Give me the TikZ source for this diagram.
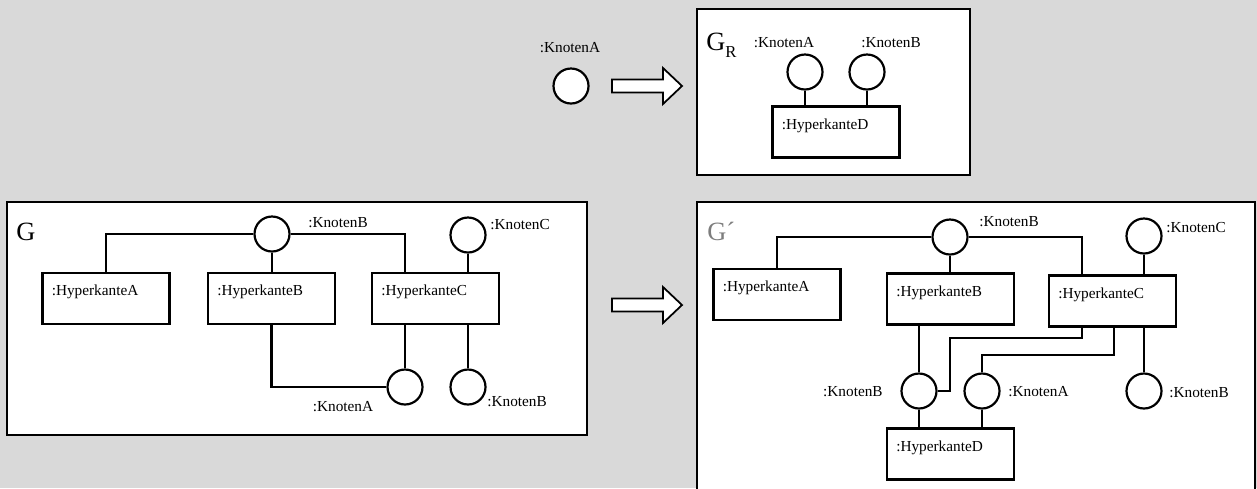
\documentclass[tikz,border=0pt]{standalone}
\usepackage{fontspec}
\setmainfont{Liberation Serif}
\usetikzlibrary{positioning,calc}
\definecolor{bggray}{RGB}{217,217,217}
\definecolor{labgray}{RGB}{125,125,125}
\tikzset{
  frame/.style={draw, line width=1.25pt, fill=white},
  kn/.style={draw, circle, line width=1.25pt, fill=white, minimum size=7mm, inner sep=0pt},
  txt/.style={font=\fontsize{8.7}{10}\selectfont, inner sep=0pt},
  hk/.style={draw, line width=1.25pt, fill=white, minimum width=25.4mm, minimum height=10.2mm, inner sep=0pt,
    label={[txt, anchor=west, shift={(2mm,-4mm)}]north west:{#1}}},
  big/.style={font=\fontsize{15}{15}\selectfont, inner sep=0pt, anchor=base west},
  ln/.style={line width=1.25pt},
  hollow/.style={draw, line width=1pt, fill=white, line join=miter},
}

\begin{document}
\begin{tikzpicture}[x=0.2mm, y=-0.2mm]
\fill[bggray] (0,0) rectangle (1257,488);
\useasboundingbox (0,0) rectangle (1257,488);
\clip (0,0) rectangle (1257,488);

% rule application arrows
\foreach \yy in {86,305}
  \draw[hollow] (612,\yy-6.5) -- (663,\yy-6.5) -- (663,\yy-18) -- (682,\yy)
    -- (663,\yy+18) -- (663,\yy+6.5) -- (612,\yy+6.5) -- cycle;

% single node to be replaced
\node[kn] (k0) at (571,86) {};
\node[txt] (lk0) at (570,48) {:KnotenA};

% right hand side G_R
\draw[frame] (697,9) rectangle (970,175);
\node[big] (gR) at (706,50) {G\raisebox{-4.5pt}{\fontsize{9.5}{9.5}\selectfont R}};
\node[kn] (rA) at (805,72) {};
\node[kn] (rB) at (867,72) {};
\node[hk=:HyperkanteD] (rD) at (836,132) {};
\node[txt] (lrA) at (784,43) {:KnotenA};
\node[txt] (lrB) at (891,43) {:KnotenB};
\draw[ln] (rA.south) -- (rA |- rD.north);
\draw[ln] (rB.south) -- (rB |- rD.north);

% host graph G
\draw[frame] (7,202) rectangle (587,435);
\node[big] (g) at (16,240) {G};
\node[hk=:HyperkanteA] (hA) at (106,298.5) {};
\node[hk=:HyperkanteB] (hB) at (271.5,298.5) {};
\node[hk=:HyperkanteC] (hC) at (435.5,298.5) {};
\node[kn] (kB) at (272,234) {};
\node[kn] (kC) at (468,235) {};
\node[kn] (kA) at (405,387) {};
\node[kn] (kB2) at (468,387) {};
\node[txt] (lkB) at (338,223) {:KnotenB};
\node[txt, anchor=west] (lkC) at (490,225) {:KnotenC};
\node[txt] (lkA) at (343,407) {:KnotenA};
\node[txt, anchor=west] (lkB2) at (487,402) {:KnotenB};
\draw[ln] (kB.west) -| (hA.north);
\draw[ln] (kB.east) -| (kA |- hC.north);
\draw[ln] (kB.south) -- (kB |- hB.north);
\draw[ln] (kC.south) -- (kC |- hC.north);
\draw[ln] (kA |- hC.south) -- (kA.north);
\draw[ln] (kB2 |- hC.south) -- (kB2.north);
\draw[ln] (hB.south) |- (kA.west);

% derived graph G'
\draw[frame] (697,202) rectangle (1255,520);
\node[big, text=labgray] (g2) at (707,240) {G´};
\node[hk=:HyperkanteA] (hA2) at (777,294.5) {};
\node[hk=:HyperkanteB] (hB2) at (950.5,299) {};
\node[hk=:HyperkanteC] (hC2) at (1112.5,301) {};
\node[hk=:HyperkanteD] (hD2) at (950.5,454) {};
\node[kn] (kBt) at (950,237) {};
\node[kn] (kCt) at (1144,236) {};
\node[kn] (kBl) at (919,391) {};
\node[kn] (kA2) at (982,391) {};
\node[kn] (kBr) at (1144,391) {};
\node[txt, anchor=west] (lkBt) at (979,222) {:KnotenB};
\node[txt, anchor=west] (lkCt) at (1166,228) {:KnotenC};
\node[txt, anchor=east] (lkBl) at (883,392) {:KnotenB};
\node[txt, anchor=west] (lkA2) at (1008,392) {:KnotenA};
\node[txt, anchor=west] (lkBr) at (1169,393) {:KnotenB};
\coordinate (b1) at (1082,338);
\coordinate (b2) at (950,391);
\coordinate (b3) at (1114,355);
\draw[ln] (kBt.west) -| (hA2.north);
\draw[ln] (kBt.east) -| (b1 |- hC2.north);
\draw[ln] (kBt.south) -- (kBt |- hB2.north);
\draw[ln] (kCt.south) -- (kCt |- hC2.north);
\draw[ln] (kBr |- hC2.south) -- (kBr.north);
\draw[ln] (b1 |- hC2.south) -- (b1) -| (b2) -- (kBl.east);
\draw[ln] (b3 |- hC2.south) -- (b3) -| (kA2.north);
\draw[ln] (kBl |- hB2.south) -- (kBl.north);
\draw[ln] (kBl.south) -- (kBl |- hD2.north);
\draw[ln] (kA2.south) -- (kA2 |- hD2.north);
\end{tikzpicture}
\end{document}
